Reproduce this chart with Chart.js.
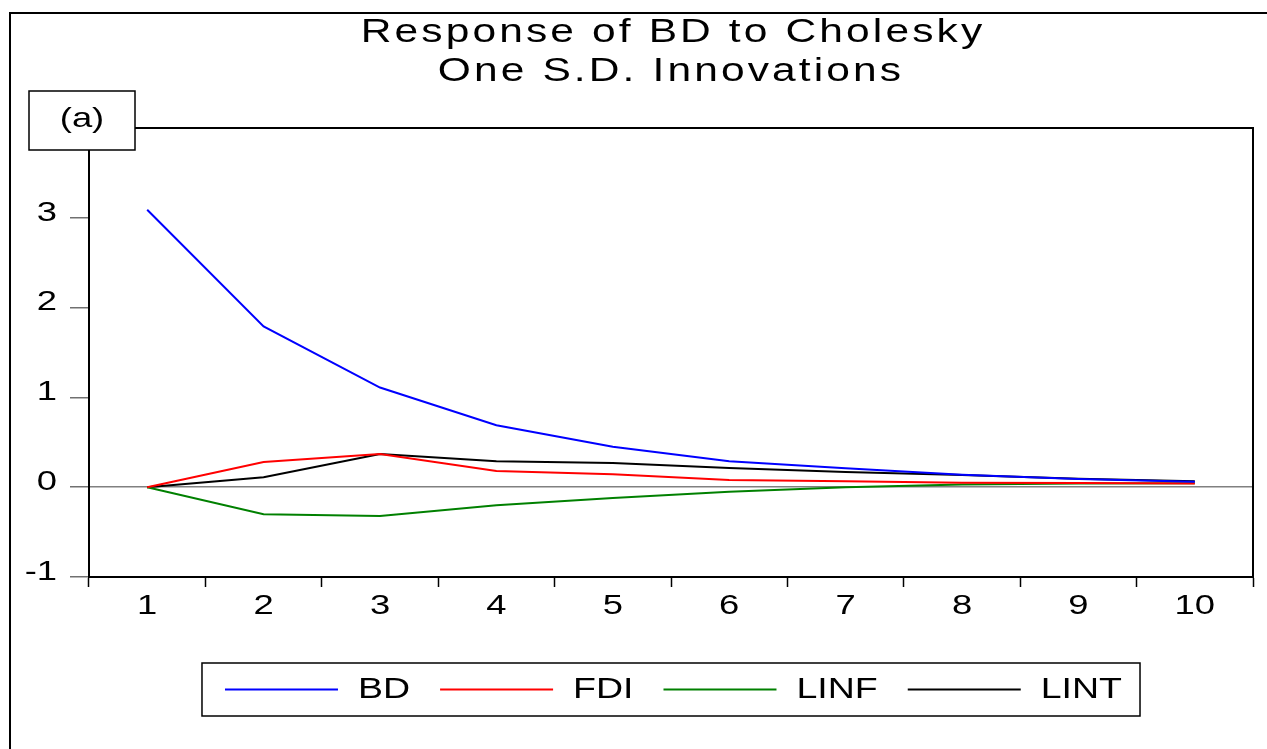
<!DOCTYPE html>
<html>
<head>
<meta charset="utf-8">
<script src="https://cdn.jsdelivr.net/npm/chart.js@4.4.0/dist/chart.umd.min.js"></script>
<style>
  html, body { margin: 0; padding: 0; background: #fff; }
  #wrap { width: 1267px; height: 749px; position: relative; }
</style>
</head>
<body>
<div id="wrap"><canvas id="irfChart"></canvas></div>
<script>
// impulse response periods and tick values
const periods = ['1', '2', '3', '4', '5', '6', '7', '8', '9', '10'];
const yTicks = [-1, 0, 1, 2, 3];
const yMin = -1, yMax = 4;

// responses of BD to each shock
const bd   = [3.09, 1.79, 1.11, 0.69, 0.45, 0.29, 0.21, 0.14, 0.09, 0.06];
const fdi  = [0, 0.28, 0.37, 0.18, 0.145, 0.08, 0.065, 0.05, 0.048, 0.04];
const linf = [0, -0.30, -0.32, -0.20, -0.12, -0.05, 0.0, 0.03, 0.04, 0.045];
const lint = [0, 0.11, 0.37, 0.29, 0.27, 0.215, 0.17, 0.135, 0.095, 0.065];

const seriesNames = ['BD', 'FDI', 'LINF', 'LINT'];
const seriesColors = ['#0000ff', '#ff0000', '#008000', '#000000'];
const titleLines = ['Response of BD to Cholesky', 'One S.D. Innovations'];
const panelTag = '(a)';

const FONT = '"Liberation Sans", Arial, sans-serif';

function wideText(ctx, text, x, y, sx, align, spacing) {
  ctx.save();
  ctx.translate(x, y);
  ctx.scale(sx, 1);
  ctx.textAlign = align;
  ctx.letterSpacing = (spacing || 0) + 'px';
  ctx.fillText(text, 0, 0);
  ctx.restore();
}

const eviewsLook = {
  id: 'eviewsLook',
  beforeDraw(chart) {
    const ctx = chart.ctx;
    ctx.save();
    ctx.fillStyle = '#fff';
    ctx.fillRect(0, 0, chart.width, chart.height);
    ctx.strokeStyle = '#000';
    ctx.lineWidth = 2;
    ctx.strokeRect(10, 13, chart.width + 50, chart.height + 50);
    ctx.restore();
  },
  afterDraw(chart) {
    const ctx = chart.ctx;
    const a = chart.chartArea;
    const xs = chart.scales.x, ys = chart.scales.y;
    const mid = (a.left + a.right) / 2;
    ctx.save();

    // plot frame
    ctx.strokeStyle = '#000';
    ctx.lineWidth = 2;
    ctx.strokeRect(a.left, a.top, a.right - a.left, a.bottom - a.top);

    ctx.fillStyle = '#000';
    ctx.textBaseline = 'alphabetic';

    // title
    ctx.font = '34px ' + FONT;
    wideText(ctx, titleLines[0], mid + 2, 42, 1.25, 'center', 2.5);
    wideText(ctx, titleLines[1], mid, 81, 1.25, 'center', 2.5);

    // tick labels
    ctx.font = '28px ' + FONT;
    ctx.textBaseline = 'middle';
    yTicks.forEach(v => {
      wideText(ctx, String(v), a.left - 32, ys.getPixelForValue(v) - 5, 1.3, 'right');
    });
    periods.forEach((p, i) => {
      wideText(ctx, p, xs.getPixelForValue(i), a.bottom + 29, 1.3, 'center');
    });

    // panel tag box
    const bx = a.left - 60, by = a.top - 37, bw = 106, bh = 59;
    ctx.fillStyle = '#fff';
    ctx.fillRect(bx, by, bw, bh);
    ctx.lineWidth = 1.5;
    ctx.strokeRect(bx, by, bw, bh);
    ctx.fillStyle = '#000';
    ctx.font = '28px ' + FONT;
    wideText(ctx, panelTag, bx + bw / 2, by + bh / 2 - 1, 1.3, 'center');

    // legend
    ctx.font = '30px ' + FONT;
    const sx = 1.25, lineLen = 113, gap = 20, itemGap = 30, padL = 23, padR = 18;
    const widths = seriesNames.map(n => ctx.measureText(n).width * sx);
    let total = padL + padR + itemGap * (seriesNames.length - 1);
    widths.forEach(w => { total += lineLen + gap + w; });
    const lx = mid - total / 2, ly = 663, lh = 53, cy = ly + lh / 2;
    ctx.lineWidth = 1.5;
    ctx.strokeStyle = '#000';
    ctx.strokeRect(lx, ly, total, lh);
    let cx = lx + padL;
    seriesNames.forEach((n, i) => {
      ctx.strokeStyle = seriesColors[i];
      ctx.lineWidth = 2;
      ctx.beginPath();
      ctx.moveTo(cx, cy);
      ctx.lineTo(cx + lineLen, cy);
      ctx.stroke();
      cx += lineLen + gap;
      ctx.fillStyle = '#000';
      wideText(ctx, n, cx, cy, sx, 'left');
      cx += widths[i] + itemGap;
    });
    ctx.restore();
  }
};

const ctx1 = document.getElementById('irfChart');
const seriesData = [bd, fdi, linf, lint];

new Chart(ctx1, {
  type: 'line',
  data: {
    labels: periods,
    datasets: seriesNames.map((n, i) => ({
      label: n,
      data: seriesData[i],
      borderColor: seriesColors[i],
      borderWidth: 2,
      pointRadius: 0,
      tension: 0,
      fill: false
    }))
  },
  options: {
    responsive: true,
    maintainAspectRatio: false,
    animation: false,
    devicePixelRatio: 1,
    layout: { padding: { left: 0, top: 128, right: 14, bottom: 0 } },
    plugins: {
      legend: { display: false },
      title: { display: false },
      tooltip: { enabled: false }
    },
    scales: {
      x: {
        offset: true,
        grid: {
          offset: true,
          drawOnChartArea: false,
          tickLength: 10,
          tickColor: '#000',
          tickWidth: 1.5
        },
        border: { color: '#000', width: 2 },
        ticks: { display: false },
        afterFit: s => { s.height = 172; }
      },
      y: {
        min: yMin,
        max: yMax,
        ticks: { stepSize: 1, display: false },
        grid: {
          color: c => (c.tick && c.tick.value === 0) ? '#808080' : 'rgba(0,0,0,0)',
          tickColor: c => (c.tick && c.tick.value === yMax) ? 'rgba(0,0,0,0)' : '#707070',
          tickLength: 19,
          lineWidth: 1.5
        },
        border: { color: '#000', width: 2 },
        afterFit: s => { s.width = 89; }
      }
    }
  },
  plugins: [eviewsLook]
});
</script>
</body>
</html>
